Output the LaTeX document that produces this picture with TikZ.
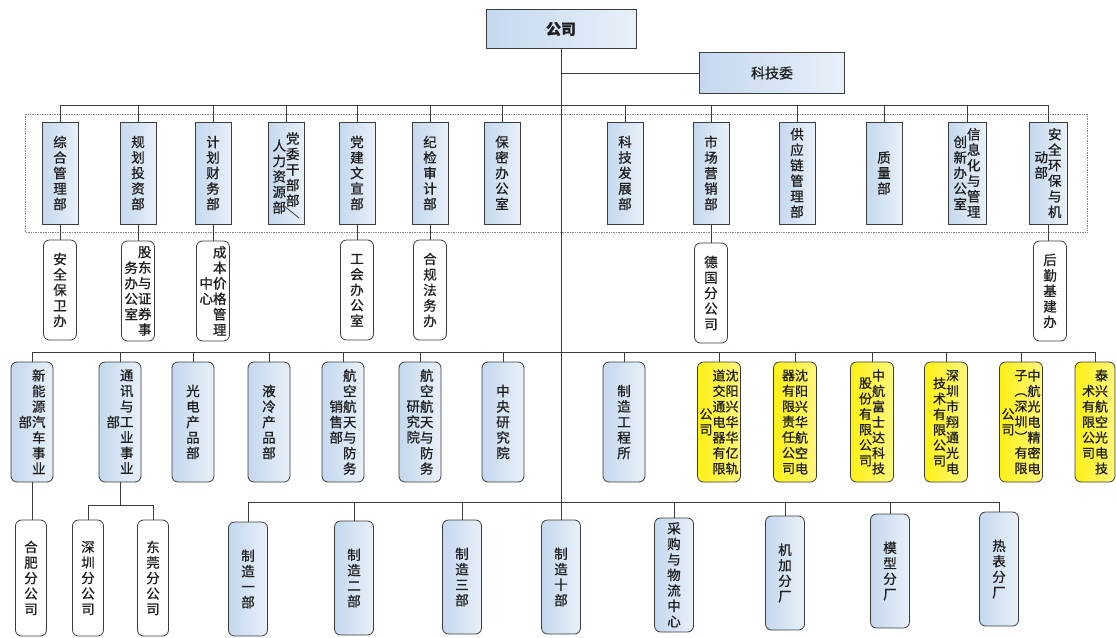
\documentclass[tikz,border=0pt]{standalone}
\usepackage{fontspec}
\usetikzlibrary{calc}
\setmainfont{Noto Sans CJK SC}[FakeBold=0.8]
\makeatletter
\newcommand\vcol[2][0pt]{\lower#1\hbox{$\vcenter{\baselineskip=15.5pt\lineskiplimit=-20pt\lineskip=0pt\@tfor\vc@t:=#2\do{\hbox to 1em{\hss\vphantom{国}\vc@t\hss}}}$}}
\makeatother
\definecolor{bl}{RGB}{196,216,238}
\definecolor{bl2}{RGB}{232,240,249}
\definecolor{yl}{RGB}{255,240,20}
\definecolor{ln}{RGB}{60,60,60}
\definecolor{tx}{RGB}{30,30,30}
\tikzset{
  conn/.style={draw=ln, line width=0.8pt},
  sq/.style={draw=ln, line width=0.8pt, inner sep=0pt, left color=bl, right color=bl2, text=tx,
    minimum width=36pt, minimum height=102pt, font=\fontsize{13.5}{15.5}\selectfont},
  rw/.style={draw=ln, line width=0.8pt, inner sep=0pt, rounded corners=6pt, fill=white, text=tx,
    minimum width=33pt, minimum height=100pt, font=\fontsize{13.5}{15.5}\selectfont},
  rb/.style={draw=ln, line width=0.8pt, inner sep=0pt, rounded corners=6pt, left color=bl, right color=bl2, text=tx,
    minimum width=42pt, minimum height=120pt, font=\fontsize{13.5}{15.5}\selectfont},
  ry/.style={draw=ln, line width=0.8pt, inner sep=0pt, rounded corners=6pt, left color=yl, middle color=yl, right color=yl!55!white, text=tx,
    minimum width=43pt, minimum height=120pt, font=\fontsize{13}{15.5}\selectfont},
  rw4/.style={rw, minimum width=31pt, minimum height=116pt},
  rb4/.style={rb, minimum width=39pt, minimum height=114pt},
}
\begin{document}
\begin{tikzpicture}[x=1pt,y=-1pt]
\useasboundingbox[fill=white] (0,0) rectangle (1116,637);
% top
\node[sq, minimum width=150pt, minimum height=39pt, font=\fontsize{15}{18}\selectfont\bfseries] (co) at (561,29) {公司};
\node[sq, minimum width=145pt, minimum height=41pt, font=\fontsize{14}{18}\selectfont] (kj) at (772,73) {科技委};
% dotted frame
\draw[gray, densely dotted, line width=0.7pt] (25,114) rectangle (1087,232);
% row 1
\node[sq] (a1) at (60,173) {\vcol{综合管理部}};
\node[sq] (a2) at (138,173) {\vcol{规划投资部}};
\node[sq] (a3) at (213,173) {\vcol{计划财务部}};
\node[sq] (a4) at (286,173) {\vcol[7pt]{人力资源部}\vcol{党委干部部}};
\node[sq] (a5) at (357,173) {\vcol{党建文宣部}};
\node[sq] (a6) at (430,173) {\vcol{纪检审计部}};
\node[sq] (a7) at (502,173) {\vcol{保密办公室}};
\node[sq] (a8) at (625,173) {\vcol{科技发展部}};
\node[sq] (a9) at (711,173) {\vcol{市场营销部}};
\node[sq] (a10) at (797,173) {\vcol{供应链管理部}};
\node[sq] (a11) at (884,173) {\vcol{质量部}};
\node[sq, minimum width=38pt] (a12) at (967,173) {\vcol{创新办公室}\vcol{信息化与管理}};
\node[sq, minimum width=38pt] (a13) at (1048,173) {\vcol[-8pt]{动部}\vcol{安全环保与机}};
\draw[conn] ($(a4.center)+(-3,32)$) -- ($(a4.center)+(13,45)$);
% row 2
\node[rw] (b1) at (60,290) {\vcol{安全保卫办}};
\node[rw] (b2) at (138,291) {\vcol{务办公室}\vcol{股东与证券事}};
\node[rw] (b3) at (213,291) {\vcol{中心}\vcol{成本价格管理}};
\node[rw] (b5) at (357,290) {\vcol{工会办公室}};
\node[rw] (b6) at (430,290) {\vcol{合规法务办}};
\node[rw] (b9) at (711,293) {\vcol{德国分公司}};
\node[rw] (b13) at (1050,291) {\vcol{后勤基建办}};
% row 3
\node[rb] (c1) at (32,422) {\vcol{部}\vcol{新能源汽车事业}};
\node[rb] (c2) at (120,422) {\vcol{部}\vcol{通讯与工业事业}};
\node[rb] (c3) at (193,422) {\vcol{光电产品部}};
\node[rb] (c4) at (269,422) {\vcol{液冷产品部}};
\node[rb] (c5) at (343,422) {\vcol{销售部}\vcol{航空航天与防务}};
\node[rb] (c6) at (420,422) {\vcol{研究院}\vcol{航空航天与防务}};
\node[rb] (c7) at (503,422) {\vcol{中央研究院}};
\node[rb] (c8) at (624,422) {\vcol{制造工程所}};
\node[ry] (c9) at (719,422) {\vcol{公司}\vcol{道交通电器有限}\vcol{沈阳兴华华亿轨}};
\node[ry] (c10) at (795,422) {\vcol{器有限责任公司}\vcol{沈阳兴华航空电}};
\node[ry] (c11) at (872,422) {\vcol{股份有限公司}\vcol{中航富士达科技}};
\node[ry] (c12) at (946,422) {\vcol{技术有限公司}\vcol{深圳市翔通光电}};
\node[ry] (c13) at (1021,422) {\vcol{公司}\vcol{子︵深圳︶有限}\vcol{中航光电精密电}};
\node[ry, minimum width=40pt] (c14) at (1095,422) {\vcol{术有限公司}\vcol{泰兴航空光电技}};
% row 4
\node[rw4] (d1) at (31,578) {\vcol{合肥分公司}};
\node[rw4] (d2) at (88,578) {\vcol{深圳分公司}};
\node[rw4] (d3) at (153,578) {\vcol{东莞分公司}};
\node[rb4] (m1) at (248,579) {\vcol{制造一部}};
\node[rb4] (m2) at (354,578) {\vcol{制造二部}};
\node[rb4] (m3) at (462,577) {\vcol{制造三部}};
\node[rb4] (m4) at (561,577) {\vcol{制造十部}};
\node[rb4] (m5) at (674,575) {\vcol{采购与物流中心}};
\node[rb4] (m6) at (785,573) {\vcol{机加分厂}};
\node[rb4] (m7) at (890,571) {\vcol{模型分厂}};
\node[rb4] (m8) at (999,569) {\vcol{热表分厂}};
% connectors
\coordinate (bus1) at (561,105);
\coordinate (bus3) at (561,352);
\coordinate (bus4) at (561,502);
\coordinate (bus5) at (120,505);
\draw[conn] (co.south) -- (m4.north);
\draw[conn] (kj.west) -- (kj.west -| co.south);
\foreach \n in {a1,a2,a3,a4,a5,a6,a7,a8,a9,a10,a11,a12,a13}{\draw[conn] (\n.north) |- (bus1);}
\foreach \u/\v in {a1/b1,a2/b2,a3/b3,a5/b5,a6/b6,a9/b9,a13/b13}{\draw[conn] (\u.south) -- (\u.south |- \v.north);}
\foreach \n in {c1,c2,c3,c4,c5,c6,c7,c8,c9,c10,c11,c12,c13,c14}{\draw[conn] (\n.north) |- (bus3);}
\draw[conn] (c1.south) -- (c1.south |- d1.north);
\draw[conn] (c2.south) -- (bus5);
\draw[conn] (d2.north) |- (bus5);
\draw[conn] (d3.north) |- (bus5);
\foreach \n in {m1,m2,m3,m5,m6,m7,m8}{\draw[conn] (\n.north) |- (bus4);}
\end{tikzpicture}
\end{document}
